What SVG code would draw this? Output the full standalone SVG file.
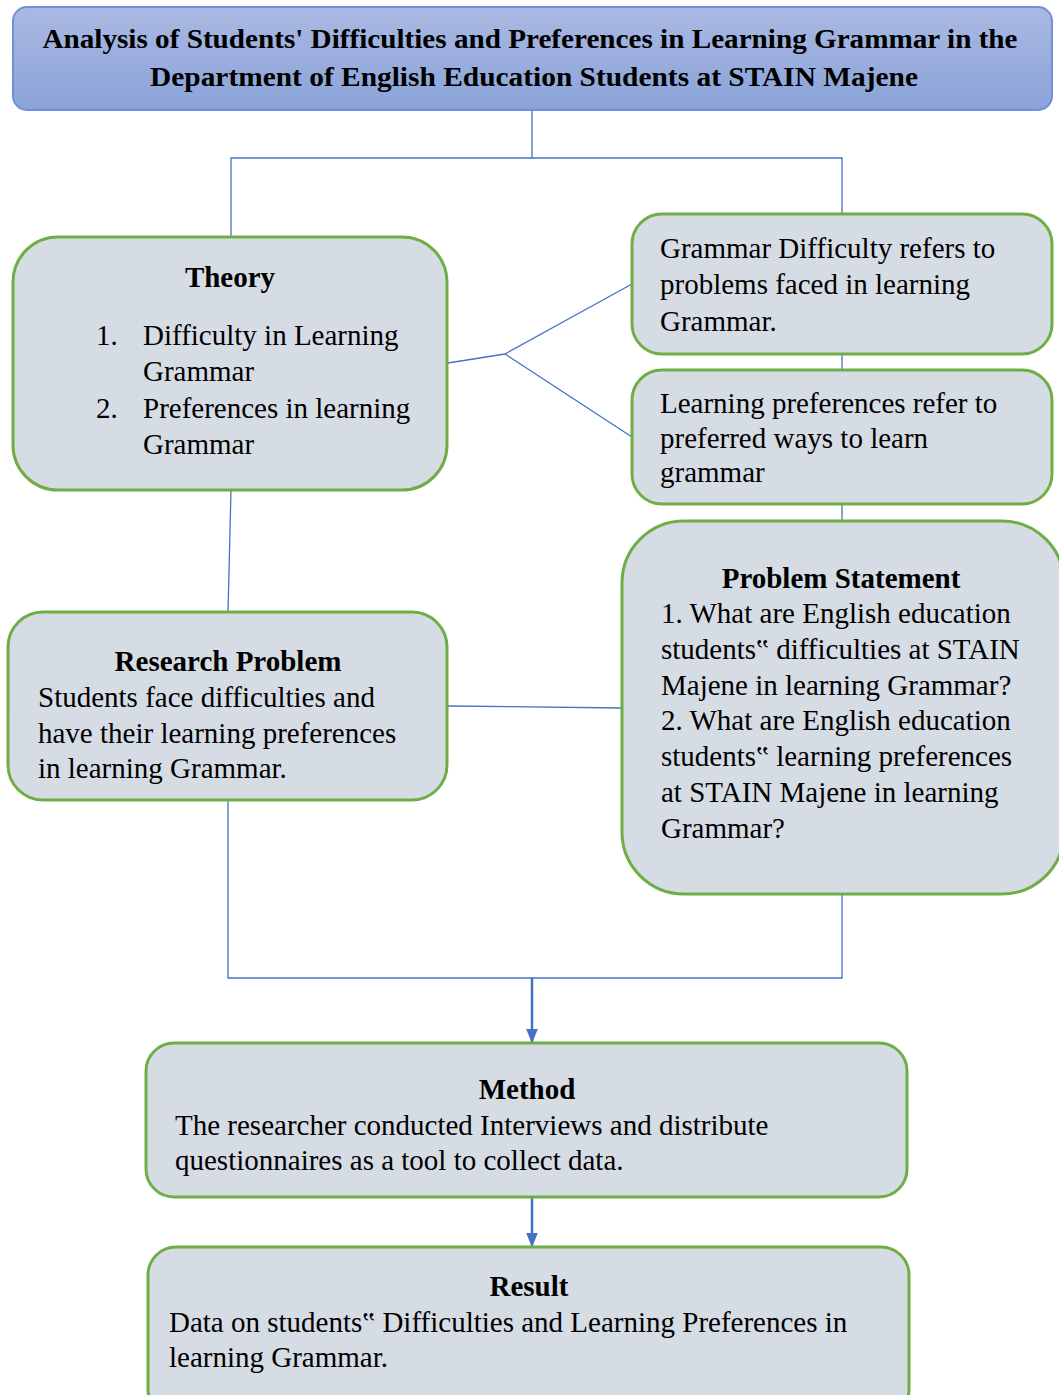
<svg xmlns="http://www.w3.org/2000/svg" width="1059" height="1395" viewBox="0 0 1059 1395">
<defs>
<linearGradient id="tg" x1="0" y1="0" x2="0" y2="1">
<stop offset="0" stop-color="#aab9e2"/>
<stop offset="1" stop-color="#8aa3d9"/>
</linearGradient>
<marker id="ah" viewBox="0 0 10 10" refX="9" refY="5" markerWidth="15" markerHeight="12" orient="auto" markerUnits="userSpaceOnUse" preserveAspectRatio="none">
<path d="M0,0 L10,5 L0,10 z" fill="#4472c4"/>
</marker>
</defs>
<style>
.box{fill:#d6dce4;stroke:#70ad47;stroke-width:3}
.t{font-family:"Liberation Serif","Times New Roman",serif;font-size:29px;fill:#000}
.b{font-weight:bold;text-anchor:middle}
.c{fill:none;stroke:#4472c4;stroke-width:1.3}
.a{fill:none;stroke:#4472c4;stroke-width:2.5}
</style>
<g id="connectors">
<polyline class="c" points="532,110 532,158"/>
<polyline class="c" points="231,237 231,158 842,158 842,214"/>
<polyline class="c" points="448,363 505,354"/>
<polyline class="c" points="505,354 632,284"/>
<polyline class="c" points="505,354 632,437"/>
<polyline class="c" points="842,354 842,370"/>
<polyline class="c" points="842,504 842,521"/>
<polyline class="c" points="231,490 228,612"/>
<polyline class="c" points="448,706 622,708"/>
<polyline class="c" points="228,800 228,978 842,978 842,894"/>
<line class="a" x1="532" y1="978" x2="532" y2="1042" marker-end="url(#ah)"/>
<line class="a" x1="532" y1="1197" x2="532" y2="1246" marker-end="url(#ah)"/>
</g>
<g id="title">
<rect x="13" y="7" width="1039" height="103" rx="14" fill="url(#tg)" stroke="#6f8fd6" stroke-width="2"/>
<text class="t b" x="530" y="48" style="font-size:27px" textLength="975" lengthAdjust="spacingAndGlyphs">Analysis of Students' Difficulties and Preferences in Learning Grammar in the</text>
<text class="t b" x="534" y="86" style="font-size:27px" textLength="768" lengthAdjust="spacingAndGlyphs">Department of English Education Students at STAIN Majene</text>
</g>
<g id="theory">
<rect class="box" x="13" y="237" width="434" height="253" rx="45"/>
<text class="t b" x="230" y="287">Theory</text>
<text class="t" x="96" y="345">1.</text>
<text class="t" x="143" y="345">Difficulty in Learning</text>
<text class="t" x="143" y="381">Grammar</text>
<text class="t" x="96" y="418">2.</text>
<text class="t" x="143" y="418">Preferences in learning</text>
<text class="t" x="143" y="454">Grammar</text>
</g>
<g id="grammar-difficulty">
<rect class="box" x="632" y="214" width="420" height="140" rx="30"/>
<text class="t" x="660" y="258">Grammar Difficulty refers to</text>
<text class="t" x="660" y="294">problems faced in learning</text>
<text class="t" x="660" y="331">Grammar.</text>
</g>
<g id="learning-preferences">
<rect class="box" x="632" y="370" width="420" height="134" rx="30"/>
<text class="t" x="660" y="413">Learning preferences refer to</text>
<text class="t" x="660" y="448">preferred ways to learn</text>
<text class="t" x="660" y="482">grammar</text>
</g>
<g id="problem-statement">
<rect class="box" x="622" y="521" width="442" height="373" rx="62"/>
<text class="t b" x="841" y="588">Problem Statement</text>
<text class="t" x="661" y="623">1. What are English education</text>
<text class="t" x="661" y="659">students‟ difficulties at STAIN</text>
<text class="t" x="661" y="695">Majene in learning Grammar?</text>
<text class="t" x="661" y="730">2. What are English education</text>
<text class="t" x="661" y="766">students‟ learning preferences</text>
<text class="t" x="661" y="802">at STAIN Majene in learning</text>
<text class="t" x="661" y="838">Grammar?</text>
</g>
<g id="research-problem">
<rect class="box" x="8" y="612" width="439" height="188" rx="35"/>
<text class="t b" x="228" y="671">Research Problem</text>
<text class="t" x="38" y="707">Students face difficulties and</text>
<text class="t" x="38" y="743">have their learning preferences</text>
<text class="t" x="38" y="778">in learning Grammar.</text>
</g>
<g id="method">
<rect class="box" x="146" y="1043" width="761" height="154" rx="28"/>
<text class="t b" x="527" y="1099">Method</text>
<text class="t" x="175" y="1135">The researcher conducted Interviews and distribute</text>
<text class="t" x="175" y="1170">questionnaires as a tool to collect data.</text>
</g>
<g id="result">
<rect class="box" x="148" y="1247" width="761" height="170" rx="28"/>
<text class="t b" x="529" y="1296">Result</text>
<text class="t" x="169" y="1332">Data on students‟ Difficulties and Learning Preferences in</text>
<text class="t" x="169" y="1367">learning Grammar.</text>
</g>
</svg>
